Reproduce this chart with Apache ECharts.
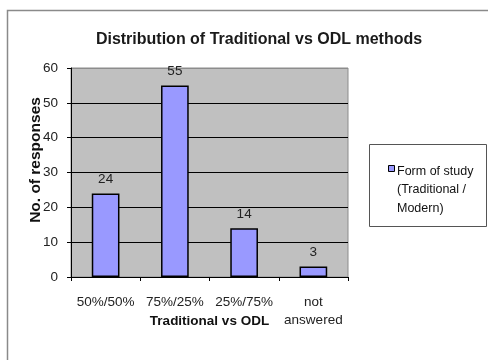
<!DOCTYPE html>
<html>
<head>
<meta charset="utf-8">
<script src="https://cdn.jsdelivr.net/npm/echarts@6/dist/echarts.min.js"></script>
<style>
  html, body { margin: 0; padding: 0; background: #fff; }
  #chart { width: 488px; height: 360px; }
</style>
</head>
<body>
<div id="chart"></div>
<script>
// Survey answers: split between traditional and ODL study
const categories = ['50%/50%', '75%/25%', '25%/75%', 'not\nanswered'];
const responses = [24, 55, 14, 3];
const yTicks = { min: 0, max: 60, step: 10 };
const seriesName = 'Form of study\n(Traditional /\nModern)';

const FONT = 'Liberation Sans, Arial, sans-serif';
const BAR_FILL = '#9999ff';

const chart = echarts.init(document.getElementById('chart'), null, { renderer: 'canvas' });

chart.setOption({
  backgroundColor: '#ffffff',
  animation: false,
  title: {
    text: 'Distribution of Traditional vs ODL methods',
    left: 254,
    textAlign: 'center',
    top: 27,
    textStyle: { fontFamily: FONT, fontSize: 16, fontWeight: 'bold', color: '#1a1a1a' }
  },
  graphic: [
    // chart frame
    { type: 'rect', shape: { x: 7.5, y: 10.5, width: 490, height: 360 },
      style: { fill: 'none', stroke: '#8a8a8a', lineWidth: 1.5 }, z: -1 },
    // legend frame, key and entry text
    { type: 'rect', shape: { x: 369.5, y: 144.5, width: 117, height: 82 },
      style: { fill: '#fff', stroke: '#555', lineWidth: 1 }, z: 1 },
    { type: 'rect', shape: { x: 388.5, y: 165.5, width: 6, height: 6 },
      style: { fill: BAR_FILL, stroke: '#000', lineWidth: 1 }, z: 2 },
    { type: 'text', left: 397, top: 162, z: 2,
      style: { text: seriesName, font: '12.5px ' + FONT, fill: '#111', lineHeight: 18.5 } }
  ],
  grid: {
    left: 71, top: 68, width: 277, height: 209,
    show: true, backgroundColor: '#c0c0c0', borderColor: '#8c8c8c', borderWidth: 1
  },
  xAxis: {
    type: 'category',
    data: categories,
    name: 'Traditional vs ODL',
    nameLocation: 'middle',
    nameGap: 37,
    nameMoveOverlap: false,
    nameTextStyle: { fontFamily: FONT, fontSize: 13.5, fontWeight: 'bold', color: '#111' },
    axisLine: { lineStyle: { color: '#000', width: 1 } },
    axisTick: { show: true, length: 4, alignWithLabel: false, lineStyle: { color: '#000' } },
    axisLabel: { fontFamily: FONT, fontSize: 13.5, color: '#222', margin: 16, lineHeight: 18, interval: 0 }
  },
  yAxis: {
    type: 'value',
    min: yTicks.min,
    max: yTicks.max,
    interval: yTicks.step,
    name: 'No. of responses',
    nameLocation: 'middle',
    nameGap: 27,
    nameRotate: 90,
    nameMoveOverlap: false,
    nameTextStyle: { fontFamily: FONT, fontSize: 15.5, fontWeight: 'bold', color: '#111', padding: [0, 0, 0, 25] },
    axisLine: { show: true, lineStyle: { color: '#000', width: 1 } },
    axisTick: { show: true, length: 4, lineStyle: { color: '#000' } },
    axisLabel: { fontFamily: FONT, fontSize: 13.5, color: '#222', margin: 13 },
    splitLine: { show: true, lineStyle: { color: ['#000', '#000', '#000', '#000', '#000', '#000', '#8c8c8c'], width: 1 } }
  },
  series: [{
    name: seriesName,
    type: 'bar',
    data: responses,
    barWidth: '40%',
    itemStyle: { color: BAR_FILL, borderColor: '#000', borderWidth: 1.5 },
    label: {
      show: true, position: 'top', distance: 7,
      fontFamily: FONT, fontSize: 13.5, color: '#222'
    }
  }]
});
</script>
</body>
</html>
